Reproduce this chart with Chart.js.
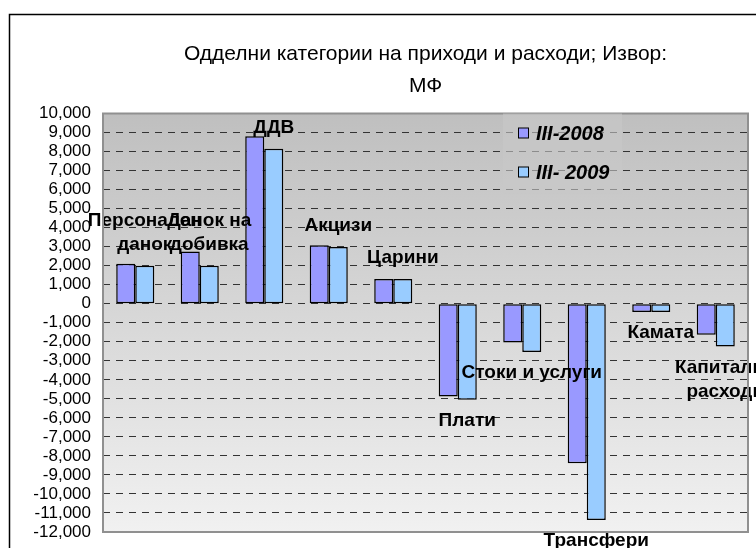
<!DOCTYPE html>
<html>
<head>
<meta charset="utf-8">
<script src="https://cdn.jsdelivr.net/npm/chart.js@4/dist/chart.umd.min.js"></script>
<style>
  html, body { margin: 0; padding: 0; background: #fff; overflow: hidden; }
  #wrap { width: 756px; height: 548px; }
</style>
</head>
<body>
<div id="wrap"><canvas id="chart" width="756" height="548"></canvas></div>
<script>
var categories = [
  ['Персонален', 'данок'],
  ['Данок на', 'добивка'],
  ['ДДВ'],
  ['Акцизи'],
  ['Царини'],
  ['Плати'],
  ['Стоки и услуги'],
  ['Трансфери'],
  ['Камата'],
  ['Капитални', 'расходи']
];
var seriesNames = ['III-2008', 'III- 2009'];
var values2008 = [2100, 2750, 8800, 3070, 1300, -4880, -2040, -8390, -430, -1630];
var values2009 = [2000, 2000, 8150, 2980, 1300, -5050, -2540, -11370, -430, -2250];
var titleLines = ['Одделни категории на приходи и расходи; Извор:', 'МФ'];
var yMin = -12000, yMax = 10000, yStep = 1000;

var colors = ['#9999ff', '#99ccff'];
var fontName = "'Liberation Sans', Arial, sans-serif";

// outer frame + gradient plot background
var backgroundPlugin = {
  id: 'plotBackground',
  beforeDraw: function(chart) {
    var ctx = chart.ctx, a = chart.chartArea;
    ctx.save();
    ctx.fillStyle = '#fff';
    ctx.fillRect(0, 0, chart.width, chart.height);
    ctx.strokeStyle = '#000';
    ctx.lineWidth = 1.5;
    ctx.strokeRect(9.5, 14.5, chart.width + 20, chart.height + 20);
    var g = ctx.createLinearGradient(0, a.top, 0, a.bottom);
    g.addColorStop(0, '#bfbfbf');
    g.addColorStop(1, '#f1f1f1');
    ctx.fillStyle = g;
    ctx.fillRect(a.left, a.top, a.right - a.left, a.bottom - a.top);
    ctx.restore();
  },
  afterDraw: function(chart) {
    var ctx = chart.ctx, a = chart.chartArea;
    ctx.save();
    ctx.strokeStyle = '#909090';
    ctx.lineWidth = 2;
    ctx.strokeRect(a.left, a.top, a.right - a.left, a.bottom - a.top);
    ctx.restore();
  }
};

// category names written next to the III-2009 bars, like excel data labels
var barLabelsPlugin = {
  id: 'barLabels',
  afterDatasetsDraw: function(chart) {
    var ctx = chart.ctx;
    var meta = chart.getDatasetMeta(1);
    ctx.save();
    ctx.font = 'bold 19px ' + fontName;
    ctx.fillStyle = '#000';
    ctx.textAlign = 'center';
    ctx.textBaseline = 'middle';
    meta.data.forEach(function(bar, i) {
      var lines = categories[i];
      var lineH = 24;
      if (values2009[i] >= 0) {
        var y0 = bar.y - 21 - (lines.length - 1) * lineH;
        lines.forEach(function(t, k) { ctx.fillText(t, bar.x, y0 + k * lineH); });
      } else {
        lines.forEach(function(t, k) { ctx.fillText(t, bar.x, bar.y + 21 + k * lineH); });
      }
    });
    ctx.restore();
  }
};

// legend sits inside the plot, top right of the middle
var insideLegendPlugin = {
  id: 'insideLegend',
  afterDraw: function(chart) {
    var ctx = chart.ctx, a = chart.chartArea;
    var x = a.left + 400, y = a.top;
    ctx.save();
    ctx.fillStyle = 'rgba(200,200,200,0.6)';
    ctx.fillRect(x, y, 119, 80);
    ctx.font = 'italic bold 20px ' + fontName;
    ctx.textBaseline = 'middle';
    chart.data.datasets.forEach(function(ds, i) {
      var cy = y + 20 + i * 39;
      ctx.fillStyle = ds.backgroundColor;
      ctx.fillRect(x + 15.5, cy - 5.5, 10, 10);
      ctx.strokeStyle = '#000';
      ctx.lineWidth = 1;
      ctx.strokeRect(x + 15.5, cy - 5.5, 10, 10);
      ctx.fillStyle = '#000';
      ctx.fillText(ds.label, x + 33, cy + 1);
    });
    ctx.restore();
  }
};

var chart = new Chart(document.getElementById('chart').getContext('2d'), {
  type: 'bar',
  data: {
    labels: categories,
    datasets: [
      { label: seriesNames[0], data: values2008, backgroundColor: colors[0] },
      { label: seriesNames[1], data: values2009, backgroundColor: colors[1] }
    ]
  },
  options: {
    responsive: false,
    animation: false,
    layout: { padding: { left: 0, right: 8, top: 14, bottom: 16 } },
    datasets: {
      bar: {
        borderColor: '#000',
        borderWidth: 1.5,
        borderSkipped: false,
        categoryPercentage: 0.59,
        barPercentage: 1
      }
    },
    plugins: {
      legend: { display: false },
      tooltip: { enabled: false },
      title: {
        display: true,
        fullSize: false,
        text: titleLines,
        color: '#000',
        font: { family: fontName, size: 21, weight: 'normal', lineHeight: 1.5 },
        padding: { top: 24.5, bottom: 12 }
      }
    },
    scales: {
      x: { display: false },
      y: {
        min: yMin,
        max: yMax,
        afterFit: function(scale) {
          // fixed axis width, and let the end labels hang over the plot edges
          scale.width = 103;
          scale.paddingTop = 0;
          scale.paddingBottom = 0;
        },
        ticks: {
          stepSize: yStep,
          autoSkip: false,
          padding: 12,
          color: '#000',
          font: { family: fontName, size: 17 },
          callback: function(v) { return v.toLocaleString('en-US'); }
        },
        grid: { color: '#333', lineWidth: 1, drawTicks: false },
        border: { display: false, dash: [7, 6] }
      }
    }
  },
  plugins: [backgroundPlugin, barLabelsPlugin, insideLegendPlugin]
});
</script>
</body>
</html>
